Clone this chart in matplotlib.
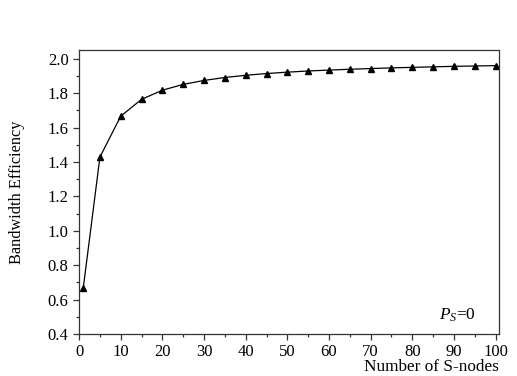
import numpy as np
from matplotlib import pyplot as plt
from matplotlib.ticker import MultipleLocator

plt.rcParams['font.family'] = ['Liberation Serif', 'DejaVu Serif']
plt.rcParams['mathtext.fontset'] = 'custom'
plt.rcParams['mathtext.it'] = 'Liberation Serif:italic'
plt.rcParams['mathtext.rm'] = 'Liberation Serif'

nodes = [1, 5, 10, 15, 20, 25, 30, 35, 40, 45, 50,
         55, 60, 65, 70, 75, 80, 85, 90, 95, 100]
efficiency = [0.667, 1.429, 1.667, 1.765, 1.818, 1.852, 1.875, 1.892, 1.905, 1.915, 1.923,
              1.930, 1.935, 1.940, 1.944, 1.948, 1.951, 1.954, 1.957, 1.959, 1.961]

fig = plt.figure(figsize=(5.17, 3.76), dpi=100)
ax = fig.add_axes([0.153, 0.112, 0.812, 0.755])

ax.plot(nodes, efficiency, color='k', lw=0.9, marker='^', ms=5, mfc='k', mec='k')

ax.set_xlim(0, 100.8)
ax.set_ylim(0.4, 2.052)
ax.xaxis.set_major_locator(MultipleLocator(10))
ax.xaxis.set_minor_locator(MultipleLocator(5))
ax.yaxis.set_major_locator(MultipleLocator(0.2))
ax.yaxis.set_minor_locator(MultipleLocator(0.1))
ax.yaxis.set_major_formatter(plt.FormatStrFormatter('%.1f'))
ax.tick_params(which='both', direction='out', labelsize=12, color='#333333')
ax.tick_params(which='major', length=4.5, width=0.9)
ax.tick_params(axis='x', which='major', pad=3)
ax.tick_params(axis='y', which='major', pad=3)
ax.tick_params(which='minor', length=2.5, width=0.9)
for s in ax.spines.values():
    s.set_color('#333333')
    s.set_linewidth(0.9)

ax.set_xlabel('Number of S-nodes', fontsize=12.4, loc='right', labelpad=-1)
ax.set_ylabel('Bandwidth Efficiency', fontsize=11.7, labelpad=16)
ax.text(0.945, 0.05, r'$P_S$=0', transform=ax.transAxes, fontsize=12.5,
        ha='right', va='baseline')

fig.savefig('out.png', dpi=100)
